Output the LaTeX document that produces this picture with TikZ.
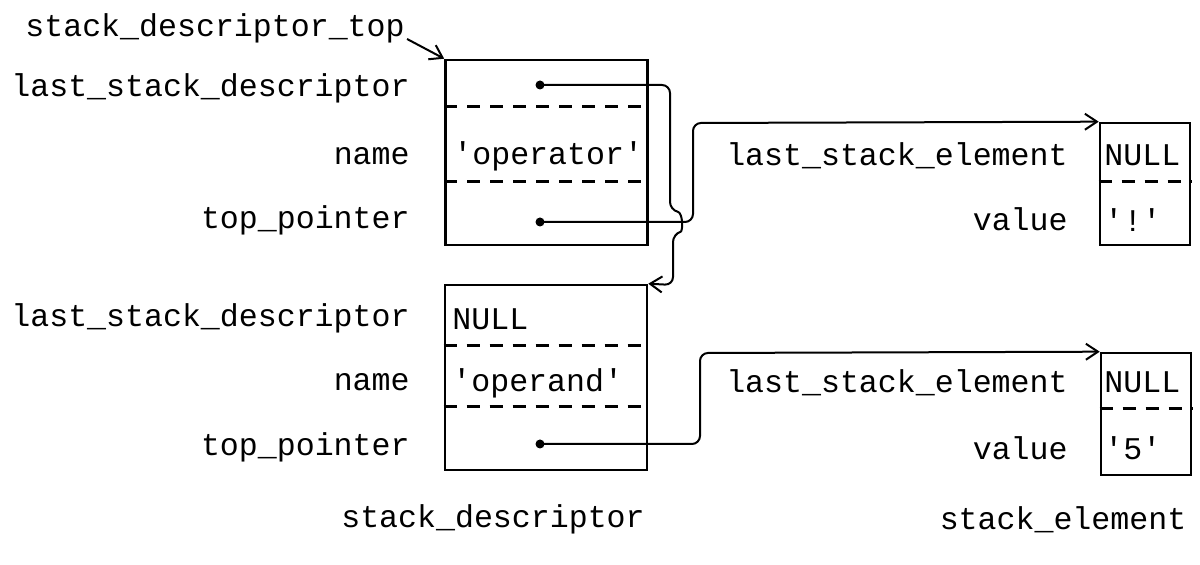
\documentclass[tikz,border=0pt]{standalone}
\usepackage{fontspec}
\setmonofont{Liberation Mono}
\usetikzlibrary{arrows.meta, positioning}
\tikzset{
every node/.style={font=\ttfamily\fontsize{15.8}{18}\selectfont, inner sep=0pt}, % typewriter text everywhere
field/.style={anchor=base east}, % field names, right aligned
entry/.style={anchor=base west}, % contents of a field
descbox/.style={draw, line width=1.3pt, minimum width=101pt, minimum height=92.5pt},
elembox/.style={draw, line width=1.3pt, minimum width=45pt, minimum height=61pt},
divider/.style={line width=1.2pt, dash pattern=on 6.5pt off 5pt},
link/.style={line width=1pt, rounded corners=4pt, -{Straight Barb[length=6pt, width=8pt]}},
ptr/.style={circle, fill, minimum size=4.5pt},
}

\begin{document}
\begin{tikzpicture}[x=0.5pt, y=-0.5pt]
    \useasboundingbox (0,0) rectangle (1200,565);
    % stack descriptors
    \node[descbox] (sd1) at (546.5,152.5) {};
    \node[descbox] (sd2) at (546,377.5) {};
    \draw[divider] ([yshift=-24pt]sd1.north west) -- ([yshift=-24pt]sd1.north east);
    \draw[divider] ([yshift=-61.5pt]sd1.north west) -- ([yshift=-61.5pt]sd1.north east);
    \draw[divider] ([yshift=-31pt]sd2.north west) -- ([yshift=-31pt]sd2.north east);
    \draw[divider] ([yshift=-61.5pt]sd2.north west) -- ([yshift=-61.5pt]sd2.north east);
    % stack elements
    \node[elembox] (se1) at (1145,184) {};
    \node[elembox] (se2) at (1146,414) {};
    \draw[divider] ([yshift=-30pt]se1.north west) -- ([yshift=-30pt]se1.north east);
    \draw[divider] ([yshift=-28.5pt]se2.north west) -- ([yshift=-28.5pt]se2.north east);
    % field names
    \node (sdtop) at (25,37) [anchor=base west] {stack\_descriptor\_top};
    \node[field] (lsd1) at (410,97) {last\_stack\_descriptor};
    \node[field] (nm1) at (410,165) {name};
    \node[field] (tp1) at (410,229) {top\_pointer};
    \node[field] (lsd2) at (410,327) {last\_stack\_descriptor};
    \node[field] (nm2) at (410,391) {name};
    \node[field] (tp2) at (410,456) {top\_pointer};
    \node[field] (lse1) at (1068,166) {last\_stack\_element};
    \node[field] (val1) at (1068,231) {value};
    \node[field] (lse2) at (1068,393) {last\_stack\_element};
    \node[field] (val2) at (1068,460) {value};
    % field contents
    \node[entry] (op1) at (453,165) {'operator'};
    \node[entry] (null1) at (452,330) {NULL};
    \node[entry] (op2) at (452,392) {'operand'};
    \node[entry] (null2) at (1104,166) {NULL};
    \node[entry] (v1) at (1104,232) {'!'};
    \node[entry] (null3) at (1104,393) {NULL};
    \node[entry] (v2) at (1104,460) {'5'};
    \node[ptr] (d1) at (540,85) {};
    \node[ptr] (d2) at (540,222) {};
    \node[ptr] (d3) at (540,444) {};
    % captions
    \node (cap1) at (493,528) [anchor=base] {stack\_descriptor};
    \node (cap2) at (1063,530) [anchor=base] {stack\_element};
    % pointers
    \draw[line width=1pt, -{Straight Barb[length=6pt, width=8pt]}]
        ([xshift=1pt, yshift=-1pt]sdtop.base east) -- (sd1.north west);
    \draw[link] (d1.center) -- (670,85) -- (670,210)
        .. controls (683,213) and (683,231) .. (673,234) -- (673,285) -- (sd2.north east);
    \draw[link] (d2.center) -- (693,222) -- (693,123) -- (se1.north west);
    \draw[link] (d3.center) -- (700,444) -- (700,353) -- (se2.north west);
  \end{tikzpicture}
\end{document}
